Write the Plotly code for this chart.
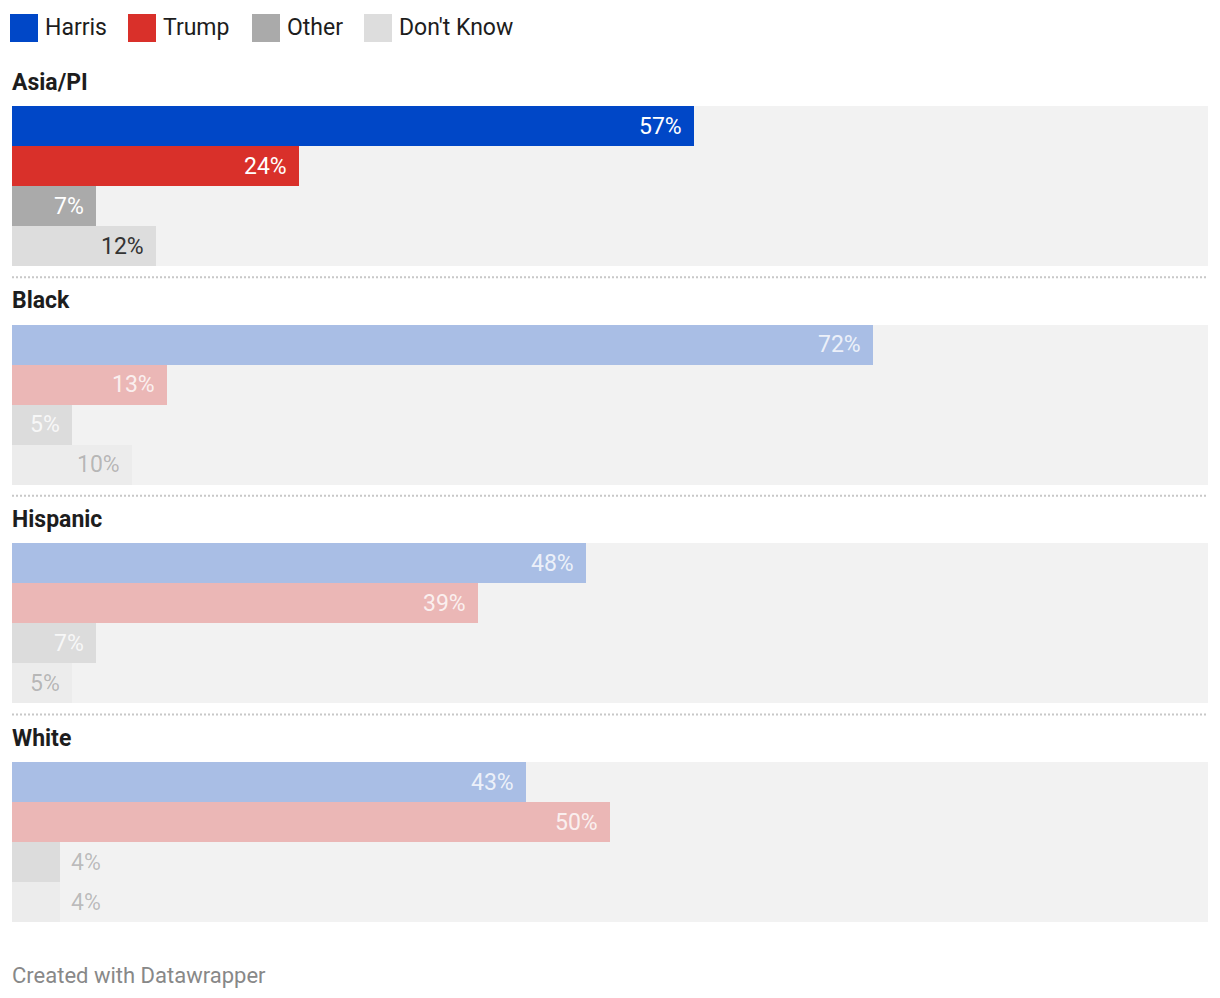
import plotly.graph_objects as go

# ---------------- data ----------------
groups = ["Asia/PI", "Black", "Hispanic", "White"]
series = ["Harris", "Trump", "Other", "Don't Know"]
harris = [57, 72, 48, 43]
trump = [24, 13, 39, 50]
other = [7, 5, 7, 4]
dont_know = [12, 10, 5, 4]
values = [harris, trump, other, dont_know]
highlight_group = "Asia/PI"
footer = "Created with Datawrapper"

# ---------------- style ----------------
OFF = 8                      # page body margin compensation
W, H = 1220 - 2 * OFF, 998 - 2 * OFF


def px(v):
    return v - OFF


X0, X1 = px(12), px(1208)
colors = [(0, 71, 199), (217, 48, 42), (170, 170, 170), (221, 221, 221)]
label_on_bar = ["white", "white", "white", "dark"]
BG = "#f2f2f2"
FONT = "Roboto"
BAR_H = 40
GROUP_TOP0 = px(106)
GROUP_PITCH = 218.67
FADE = 0.3
px_per_pct = (X1 - X0) / 100.0


def rgba(c, a):
    return f"rgba({c[0]},{c[1]},{c[2]},{a})"


group_tops = [GROUP_TOP0 + g * GROUP_PITCH for g in range(len(groups))]
group_centers = [t + BAR_H * len(series) / 2 for t in group_tops]

fig = go.Figure()

# background bars (full width per group)
fig.add_trace(go.Bar(
    orientation="h", x=[100] * len(groups), y=group_centers, base=0,
    width=BAR_H * len(series), marker=dict(color=BG, line=dict(width=0)),
    hoverinfo="skip", showlegend=False,
))

annotations = []
for si, (name, vals) in enumerate(zip(series, values)):
    ys = [t + BAR_H / 2 + si * BAR_H for t in group_tops]
    cols = [rgba(colors[si], 1 if g == highlight_group else FADE) for g in groups]
    fig.add_trace(go.Bar(
        orientation="h", x=vals, y=ys, base=0, width=BAR_H, name=name,
        marker=dict(color=cols, line=dict(width=0)),
        hoverinfo="skip", showlegend=False,
    ))
    for gi, (g, v, y) in enumerate(zip(groups, vals, ys)):
        hl = g == highlight_group
        inside = v * px_per_pct >= 55
        if inside:
            if label_on_bar[si] == "white":
                col = "#ffffff" if hl else "rgba(255,255,255,0.8)"
            else:
                col = "#333333" if hl else "rgba(51,51,51,0.3)"
            annotations.append(dict(x=v, y=y, xref="x", yref="y", text=f"{v}%",
                                    xanchor="right", yanchor="middle", xshift=-10,
                                    showarrow=False,
                                    font=dict(family=FONT, size=23, color=col)))
        else:
            col = "#333333" if hl else "rgba(51,51,51,0.3)"
            annotations.append(dict(x=v, y=y, xref="x", yref="y", text=f"{v}%",
                                    xanchor="left", yanchor="middle", xshift=9,
                                    showarrow=False,
                                    font=dict(family=FONT, size=23, color=col)))

shapes = []
# group titles and separators
for gi, (g, top) in enumerate(zip(groups, group_tops)):
    annotations.append(dict(x=X0 / W, y=top - 24, xref="paper", yref="y", text=f"<b>{g}</b>",
                            xanchor="left", yanchor="middle", showarrow=False, xshift=-2,
                            font=dict(family=FONT, size=23, color="#1d1d1d")))
    if gi > 0:
        shapes.append(dict(type="line", xref="paper", yref="y", x0=X0 / W, x1=X1 / W,
                           y0=top - 47.5, y1=top - 47.5,
                           line=dict(color="#c8c8c8", width=2, dash="2px,2px")))

# legend
leg_x = [10, 128, 252, 364]
for si, name in enumerate(series):
    x = px(leg_x[si])
    shapes.append(dict(type="rect", xref="paper", yref="y", x0=x / W, x1=(x + 28) / W,
                       y0=px(14), y1=px(42), line=dict(width=0), fillcolor=rgba(colors[si], 1)))
    annotations.append(dict(x=(x + 33) / W, y=px(27), xref="paper", yref="y", text=name,
                            xanchor="left", yanchor="middle", showarrow=False,
                            font=dict(family=FONT, size=23, color="#1d1d1d")))

annotations.append(dict(x=px(10) / W, y=px(975), xref="paper", yref="y", text=footer,
                        xanchor="left", yanchor="middle", showarrow=False,
                        font=dict(family=FONT, size=22, color="#888888")))

fig.update_layout(
    width=W, height=H, margin=dict(l=0, r=0, t=0, b=0),
    paper_bgcolor="white", plot_bgcolor="white",
    barmode="overlay", bargap=0, hovermode=False,
    xaxis=dict(domain=[X0 / W, X1 / W], range=[0, 100], visible=False, fixedrange=True),
    yaxis=dict(domain=[0, 1], range=[H, 0], visible=False, fixedrange=True),
    shapes=shapes, annotations=annotations, showlegend=False,
)

fig.write_html("out.html")
